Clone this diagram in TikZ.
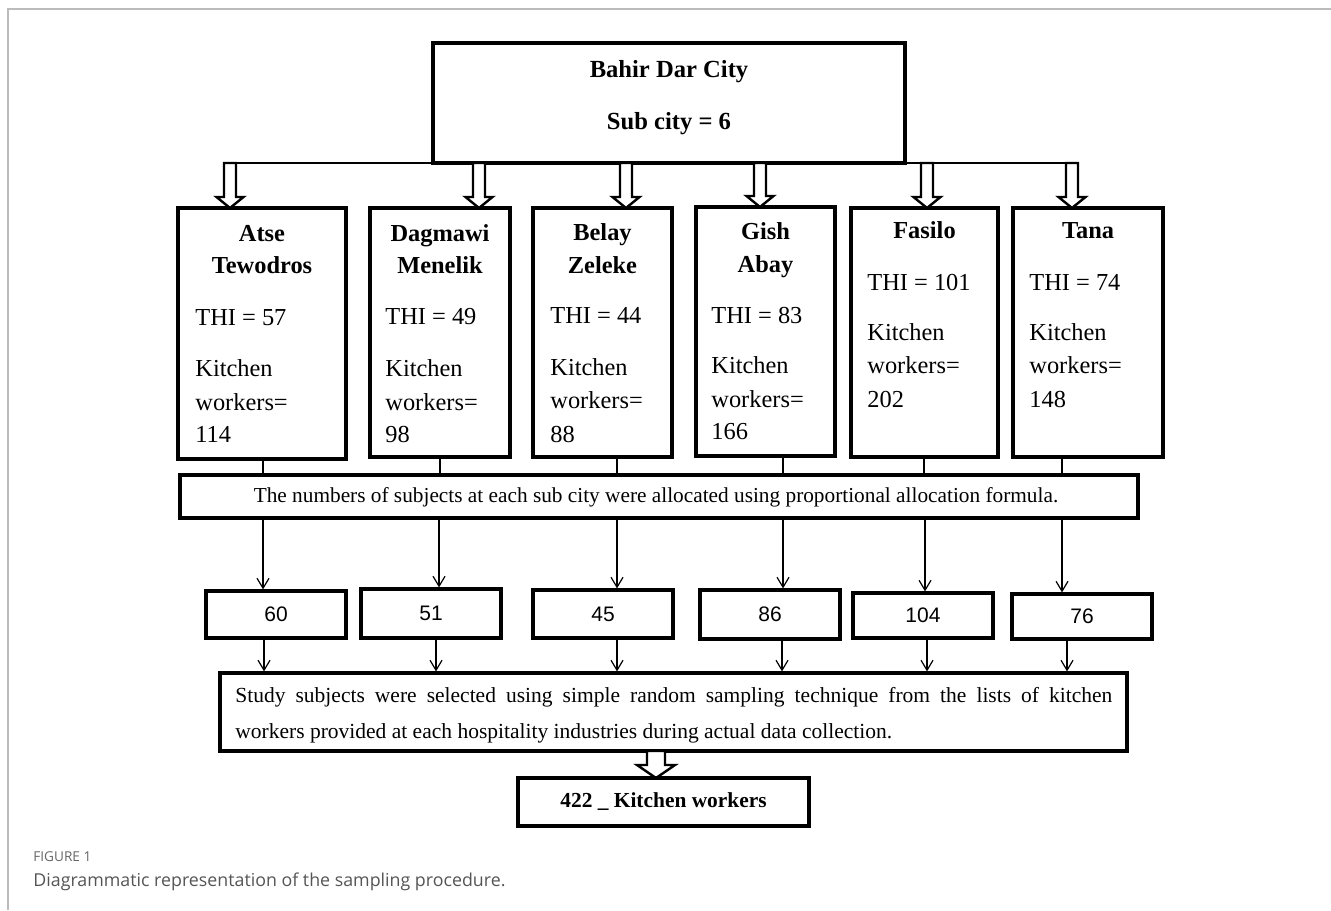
\documentclass[tikz,border=0pt]{standalone}
\usepackage{fontspec}
\setmainfont{Liberation Serif}
\newfontfamily\arialf{Liberation Sans}
\newfontfamily\capf{Open Sans}
\usetikzlibrary{arrows.meta,fit}
\definecolor{framegray}{HTML}{BBBBBB}
\definecolor{capgray}{HTML}{555555}
\definecolor{labgray}{HTML}{666666}
\tikzset{
  boxs/.style={draw, line width=1.6pt, inner sep=0pt},
  thinln/.style={line width=0.6pt},
  arr/.style={line width=0.6pt, -{Straight Barb[length=5pt,width=6pt]}},
  hollow/.style={draw, line width=1.2pt, fill=white, line join=miter},
  hd/.style={font=\bfseries\fontsize{12.2}{14}\selectfont, inner sep=0pt, anchor=base},
  tx/.style={font=\fontsize{12.2}{14}\selectfont, inner sep=0pt, anchor=base west},
  num/.style={font=\arialf\fontsize{10.5}{12}\selectfont},
}
\newcommand\hollowarr[6]{%
  \draw[hollow] (#1-#4,#2) -- (#1+#4,#2) -- (#1+#4,#3-#6) -- (#1+#5,#3-#6) -- (#1,#3)
    -- (#1-#5,#3-#6) -- (#1-#4,#3-#6) -- cycle;}
\begin{document}
\begin{tikzpicture}[x=0.5pt,y=-0.5pt]
\useasboundingbox (0,0) rectangle (1331,910);
% frame
\draw[framegray, line width=1pt] (8,910) -- (8,9) -- (1331,9);
% bus line
\draw[thinln] (230,163) -- (1072,163);
% top box
\node[boxs, fit={(433,43) (905,163)}] (top) {};
\node[hd, font=\bfseries\fontsize{12.3}{14}\selectfont] (tt1) at (669,77) {Bahir Dar City};
\node[hd, font=\bfseries\fontsize{12.3}{14}\selectfont] (tt2) at (669,129) {Sub city = 6};
% sub city boxes
\node[boxs, fit={(178,208) (346,459)}] (b1) {};
\node[boxs, fit={(370,208) (510,457)}] (b2) {};
\node[boxs, fit={(533,208) (672,457)}] (b3) {};
\node[boxs, fit={(696,207) (835,456)}] (b4) {};
\node[boxs, fit={(851,208) (998,457)}] (b5) {};
\node[boxs, fit={(1013,208) (1163,457)}] (b6) {};
% texts b1
\node[hd] (h1a) at (262,241) {Atse};
\node[hd] (h1b) at (262,273) {Tewodros};
\node[tx] (t1a) at (195,325) {THI = 57};
\node[tx] (t1b) at (195,376) {Kitchen};
\node[tx] (t1c) at (195,410) {workers=};
\node[tx] (t1d) at (195,442) {114};
% b2
\node[hd] (h2a) at (440,241) {Dagmawi};
\node[hd] (h2b) at (440,273) {Menelik};
\node[tx] (t2a) at (385,324) {THI = 49};
\node[tx] (t2b) at (385,376) {Kitchen};
\node[tx] (t2c) at (385,410) {workers=};
\node[tx] (t2d) at (385,442) {98};
% b3
\node[hd] (h3a) at (602.5,240) {Belay};
\node[hd] (h3b) at (602.5,273) {Zeleke};
\node[tx] (t3a) at (550,323) {THI = 44};
\node[tx] (t3b) at (550,375) {Kitchen};
\node[tx] (t3c) at (550,408) {workers=};
\node[tx] (t3d) at (550,442) {88};
% b4
\node[hd] (h4a) at (765.5,239) {Gish};
\node[hd] (h4b) at (765.5,272) {Abay};
\node[tx] (t4a) at (711,323) {THI = 83};
\node[tx] (t4b) at (711,373) {Kitchen};
\node[tx] (t4c) at (711,407) {workers=};
\node[tx] (t4d) at (711,439) {166};
% b5
\node[hd] (h5a) at (924.5,238) {Fasilo};
\node[tx] (t5a) at (867,290) {THI = 101};
\node[tx] (t5b) at (867,340) {Kitchen};
\node[tx] (t5c) at (867,373) {workers=};
\node[tx] (t5d) at (867,407) {202};
% b6
\node[hd] (h6a) at (1088,238) {Tana};
\node[tx] (t6a) at (1029,290) {THI = 74};
\node[tx] (t6b) at (1029,340) {Kitchen};
\node[tx] (t6c) at (1029,373) {workers=};
\node[tx] (t6d) at (1029,407) {148};
% hollow arrows
\hollowarr{230}{163}{208}{6}{13.5}{11}
\hollowarr{479}{163}{208}{6}{13.5}{11}
\hollowarr{626}{163}{208}{6}{13.5}{11}
\hollowarr{760}{163}{207}{6}{13.5}{11}
\hollowarr{927}{163}{208}{6}{13.5}{11}
\hollowarr{1072}{163}{208}{6}{13.5}{11}
% allocation box
\node[boxs, fit={(180,475) (1138,518)}] (alloc) {};
\node[inner sep=0pt, anchor=base, font=\fontsize{10.65}{12}\selectfont] (alloct) at (656,502)
  {The numbers of subjects at each sub city were allocated using proportional allocation formula.};
% x coordinates
\coordinate (c1) at (263,0); \coordinate (c2) at (440,0); \coordinate (c3) at (617,0);
\coordinate (c4) at (783,0); \coordinate (c5) at (924,0); \coordinate (c6) at (1062,0);
\draw[thinln] (b1.south -| c1) -- (alloc.north -| c1);
\draw[thinln] (b2.south -| c2) -- (alloc.north -| c2);
\draw[thinln] (b3.south -| c3) -- (alloc.north -| c3);
\draw[thinln] (b4.south -| c4) -- (alloc.north -| c4);
\draw[thinln] (b5.south -| c5) -- (alloc.north -| c5);
\draw[thinln] (b6.south -| c6) -- (alloc.north -| c6);
% number boxes
\node[boxs, fit={(206,591) (346,638)}] (n1) {};
\node[boxs, fit={(361,589) (501,638)}] (n2) {};
\node[boxs, fit={(533,590) (673,638)}] (n3) {};
\node[boxs, fit={(700,590) (840,639)}] (n4) {};
\node[boxs, fit={(853,593) (993,638)}] (n5) {};
\node[boxs, fit={(1012,594) (1152,639)}] (n6) {};
\node[num] (n1t) at (n1.center) {60};
\node[num] (n2t) at (n2.center) {51};
\node[num] (n3t) at (n3.center) {45};
\node[num] (n4t) at (n4.center) {86};
\node[num] (n5t) at (n5.center) {104};
\node[num] (n6t) at (n6.center) {76};
\coordinate (d1) at (263,0); \coordinate (d2) at (439,0); \coordinate (d3) at (617,0);
\coordinate (d4) at (783,0); \coordinate (d5) at (925,0); \coordinate (d6) at (1062,0);
\draw[arr] (alloc.south -| d1) -- (n1.north -| d1);
\draw[arr] (alloc.south -| d2) -- (n2.north -| d2);
\draw[arr] (alloc.south -| d3) -- (n3.north -| d3);
\draw[arr] (alloc.south -| d4) -- (n4.north -| d4);
\draw[arr] (alloc.south -| d5) -- (n5.north -| d5);
\draw[arr] (alloc.south -| d6) -- (n6.north -| d6);
% study box
\node[boxs, fit={(220,673) (1127,751)}] (study) {};
\node[inner sep=0pt, anchor=base west, font=\fontsize{10.75}{12}\selectfont] (st1) at (235,702)
  {\makebox[438.5pt][s]{Study subjects were selected using simple random sampling technique from the lists of kitchen}};
\node[inner sep=0pt, anchor=base west, font=\fontsize{10.75}{12}\selectfont] (st2) at (235,738)
  {workers provided at each hospitality industries during actual data collection.};
\coordinate (e1) at (264,0); \coordinate (e2) at (436,0); \coordinate (e3) at (617,0);
\coordinate (e4) at (782,0); \coordinate (e5) at (927,0); \coordinate (e6) at (1067,0);
\draw[arr] (n1.south -| e1) -- (study.north -| e1);
\draw[arr] (n2.south -| e2) -- (study.north -| e2);
\draw[arr] (n3.south -| e3) -- (study.north -| e3);
\draw[arr] (n4.south -| e4) -- (study.north -| e4);
\draw[arr] (n5.south -| e5) -- (study.north -| e5);
\draw[arr] (n6.south -| e6) -- (study.north -| e6);
% final
\hollowarr{656}{751}{778}{9}{19}{13}
\node[boxs, fit={(518,778) (809,826)}] (final) {};
\node[hd, font=\bfseries\fontsize{10.7}{12}\selectfont] (finalt) at (663.5,807) {422 \_ Kitchen workers};
% caption
\node[inner sep=0pt, anchor=base west, text=labgray, font=\capf\fontsize{6.8}{8}\selectfont] (capl) at (33,861) {FIGURE 1};
\node[inner sep=0pt, anchor=base west, text=capgray, font=\capf\fontsize{8.9}{10}\selectfont] (capt) at (33,886) {Diagrammatic representation of the sampling procedure.};
\end{tikzpicture}
\end{document}
